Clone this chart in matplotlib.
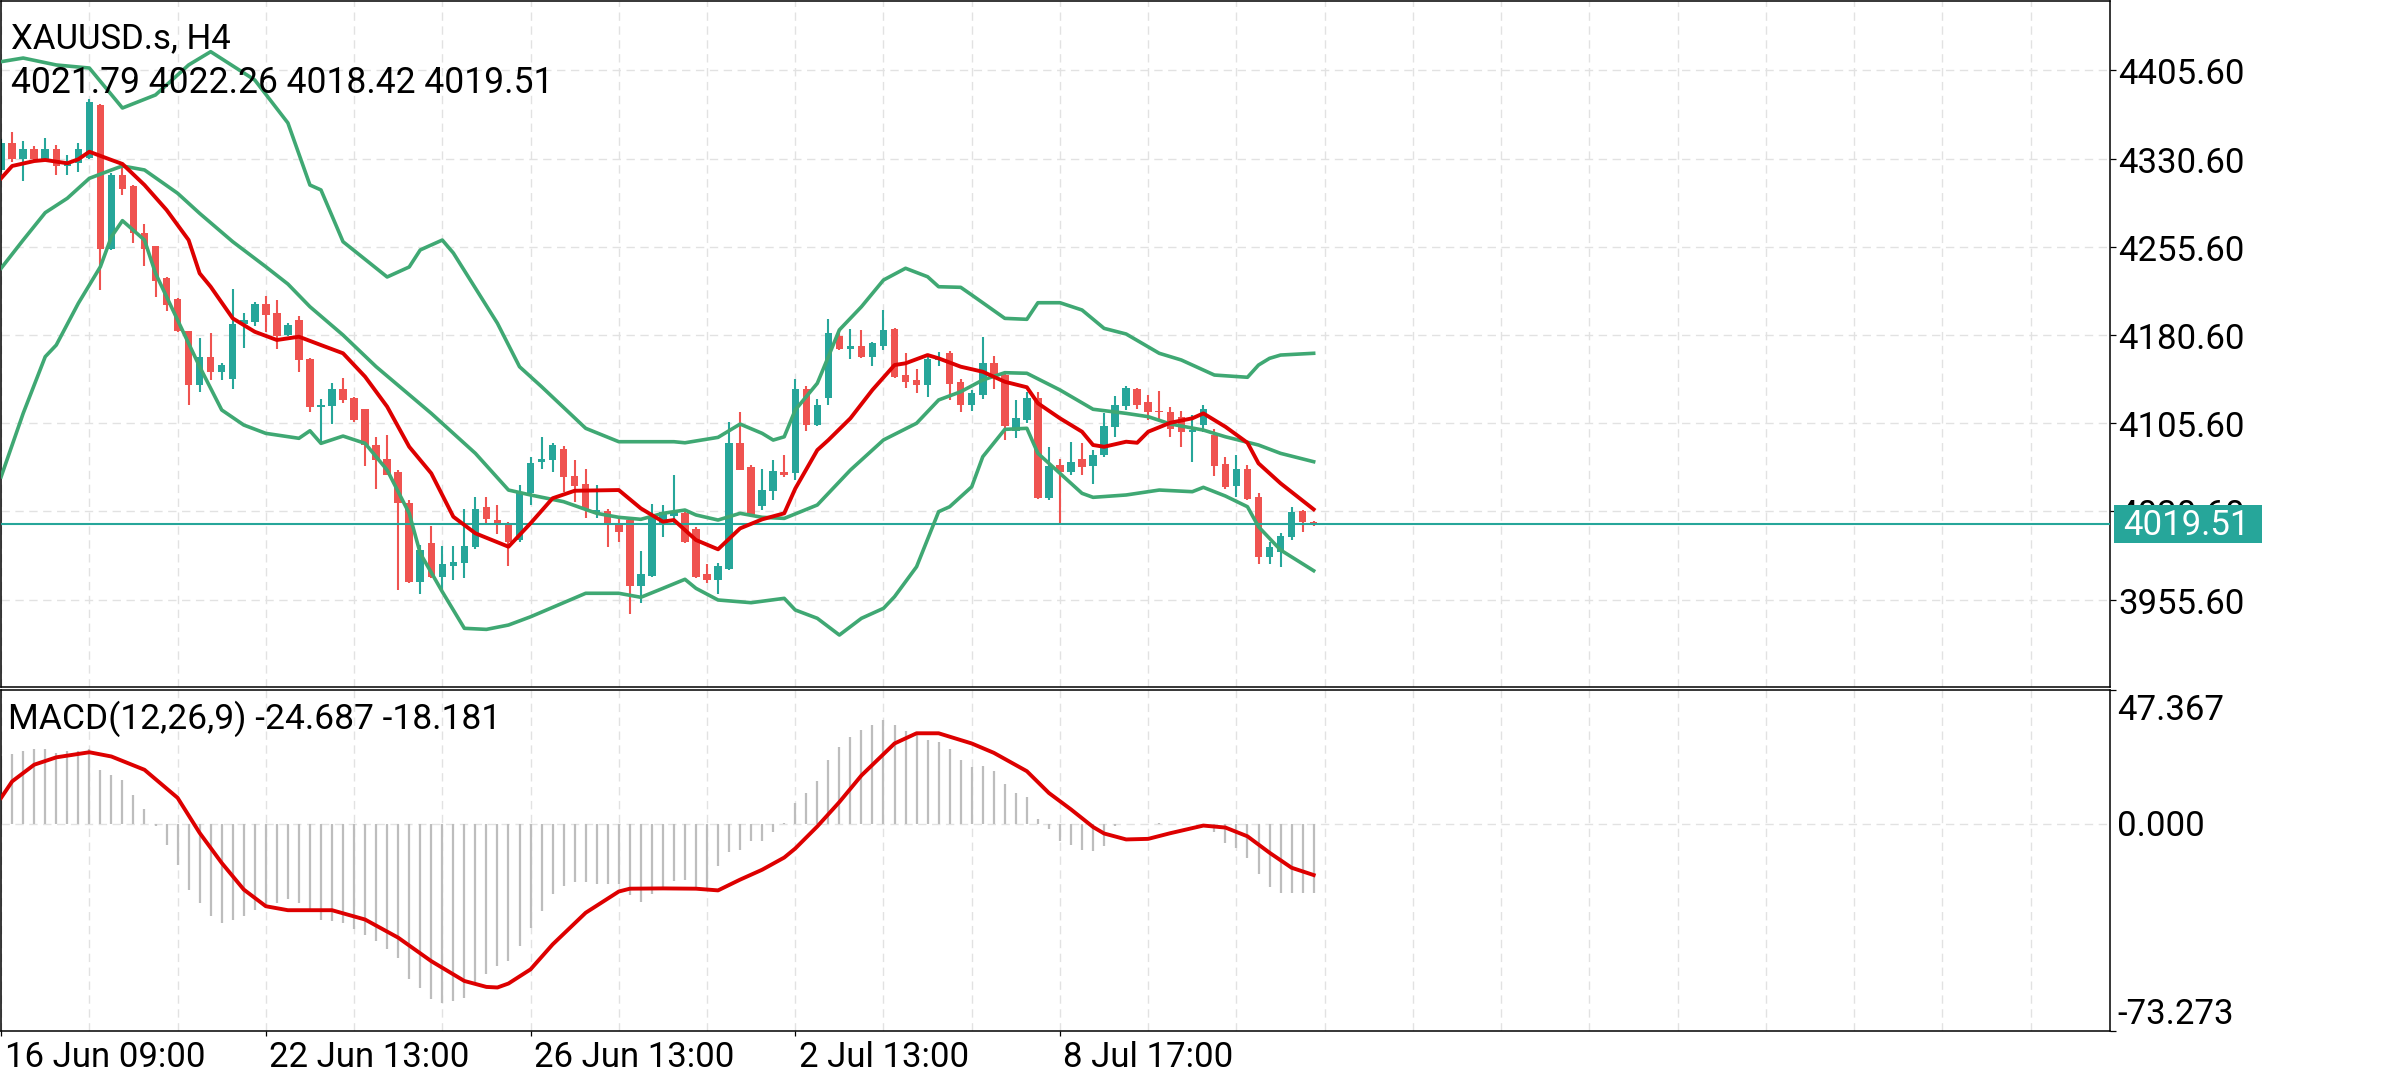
import matplotlib
matplotlib.use('Agg')
import matplotlib.pyplot as plt
from matplotlib.patches import Rectangle
from matplotlib.transforms import blended_transform_factory, offset_copy

plt.rcParams['font.family'] = ['Roboto', 'DejaVu Sans']

# XAUUSD.s H4 candles
opens = [4321, 4344, 4330, 4339, 4330, 4339, 4324, 4327, 4331, 4376,
         4254, 4317, 4307, 4267, 4256, 4229, 4211, 4184, 4138, 4162,
         4149, 4143, 4190, 4192, 4207, 4199, 4181, 4193, 4160, 4119,
         4120, 4135, 4127, 4118, 4087, 4075, 4064, 4038, 3971, 4004,
         3975, 3984, 3987, 4000, 4034, 4023, 4021, 4006, 4046, 4073,
         4074, 4084, 4061, 4054, 4030, 4031, 4021, 4023, 3967, 3976,
         4021, 4027, 4029, 4016, 3977, 3972, 3982, 4089, 4068, 4035,
         4048, 4064, 4063, 4135, 4104, 4127, 4180, 4169, 4171, 4162,
         4171, 4186, 4147, 4142, 4138, 4159, 4165, 4141, 4121, 4130,
         4157, 4147, 4099, 4108, 4127, 4042, 4070, 4064, 4075, 4069,
         4079, 4102, 4120, 4135, 4124, 4116, 4115, 4111, 4098, 4104,
         4096, 4071, 4052, 4067, 4043, 3992, 3996, 4009, 4031, 4021.79]
highs = [4347, 4353, 4346, 4341, 4348, 4342, 4334, 4344, 4381, 4377,
         4318, 4327, 4308, 4275, 4256, 4230, 4212, 4184, 4178, 4182,
         4157, 4220, 4199, 4209, 4214, 4210, 4191, 4197, 4161, 4126,
         4140, 4144, 4128, 4118, 4094, 4096, 4066, 4040, 4002, 4018,
         4001, 4001, 4033, 4043, 4043, 4036, 4022, 4053, 4077, 4094,
         4089, 4086, 4074, 4067, 4053, 4033, 4026, 4026, 3997, 4037,
         4036, 4062, 4030, 4017, 3986, 3987, 4107, 4115, 4070, 4067,
         4074, 4079, 4143, 4137, 4126, 4194, 4186, 4186, 4185, 4175,
         4202, 4187, 4165, 4152, 4162, 4166, 4167, 4143, 4134, 4179,
         4163, 4148, 4125, 4132, 4132, 4085, 4075, 4090, 4089, 4083,
         4114, 4129, 4137, 4136, 4130, 4133, 4119, 4116, 4113, 4121,
         4101, 4077, 4079, 4070, 4046, 4005, 4012, 4034, 4032, 4022.26]
lows = [4319, 4328, 4312, 4328, 4329, 4317, 4317, 4319, 4330, 4219,
        4253, 4300, 4259, 4239, 4213, 4201, 4183, 4121, 4132, 4142,
        4142, 4135, 4170, 4188, 4183, 4169, 4180, 4149, 4115, 4089,
        4105, 4123, 4107, 4069, 4050, 4062, 3964, 3970, 3960, 3974,
        3964, 3972, 3974, 3999, 4021, 4011, 3984, 4005, 4036, 4067,
        4064, 4047, 4039, 4025, 4025, 4000, 4005, 3943, 3953, 3975,
        4009, 4021, 4004, 3974, 3970, 3960, 3981, 4066, 4026, 4032,
        4040, 4060, 4057, 4099, 4103, 4121, 4168, 4160, 4161, 4154,
        4168, 4144, 4136, 4131, 4128, 4154, 4125, 4115, 4116, 4126,
        4135, 4091, 4093, 4106, 4041, 4040, 4021, 4062, 4062, 4054,
        4077, 4094, 4117, 4118, 4108, 4108, 4094, 4085, 4073, 4098,
        4061, 4050, 4043, 4040, 3986, 3986, 3983, 4006, 4013, 4018.42]
closes = [4344, 4330, 4339, 4330, 4339, 4324, 4328, 4339, 4379, 4254,
          4317, 4305, 4267, 4254, 4227, 4206, 4184, 4138, 4162, 4149,
          4155, 4190, 4193, 4207, 4198, 4180, 4189, 4159, 4119, 4121,
          4135, 4125, 4108, 4087, 4074, 4062, 4038, 3971, 3998, 3975,
          3986, 3988, 4001, 4033, 4024, 4019, 4005, 4047, 4072, 4075,
          4087, 4060, 4052, 4033, 4032, 4019, 4013, 3967, 3977, 4025,
          4030, 4029, 4005, 3975, 3972, 3984, 4089, 4066, 4028, 4049,
          4065, 4062, 4135, 4104, 4121, 4182, 4169, 4171, 4162, 4174,
          4185, 4145, 4141, 4138, 4160, 4161, 4139, 4121, 4131, 4157,
          4145, 4103, 4110, 4127, 4042, 4069, 4064, 4073, 4068, 4079,
          4103, 4121, 4136, 4121, 4115, 4115, 4101, 4098, 4100, 4118,
          4069, 4051, 4067, 4041, 3992, 4000, 4010, 4030, 4021.79, 4019.51]

# Bollinger bands, read at bars where the curves bend
bb_upper_idx = [0, 2, 5, 8, 11, 14, 17, 19, 23, 26, 28, 29, 31, 35, 37, 38, 40, 41, 45, 47,
                49, 53, 56, 61, 62, 65, 67, 69, 70, 71, 72, 74, 75, 76, 78, 80, 82, 84, 85, 87,
                88, 91, 93, 94, 96, 98, 100, 102, 105, 107, 110, 113, 114, 115, 116, 119]
bb_upper = [4413.1, 4416.2, 4410.3, 4407.7, 4373.7, 4384.8, 4410.3, 4421.6, 4397.5, 4361.0,
            4308.2, 4304.0, 4260.0, 4230.0, 4238.5, 4253.0, 4261.4, 4250.4, 4190.6, 4153.7,
            4136.7, 4101.3, 4089.9, 4089.9, 4089.0, 4093.6, 4104.9, 4097.0, 4091.3, 4094.1,
            4116.9, 4139.6, 4162.2, 4185.0, 4204.7, 4227.4, 4237.4, 4230.2, 4221.7, 4221.2,
            4214.7, 4194.8, 4194.0, 4208.1, 4208.1, 4201.9, 4186.3, 4181.5, 4165.1, 4159.4,
            4146.6, 4144.7, 4155.1, 4160.8, 4163.6, 4165.1]
bb_mid_idx = [0, 2, 4, 6, 8, 10, 11, 13, 16, 18, 21, 24, 26, 28, 31, 34, 39, 43, 46, 48,
              51, 54, 56, 58, 60, 62, 63, 65, 67, 69, 71, 74, 77, 80, 83, 85, 87, 89, 91, 93,
              96, 99, 102, 104, 106, 109, 111, 114, 116, 119]
bb_mid = [4237.4, 4261.4, 4284.7, 4296.9, 4313.9, 4321.0, 4324.4, 4321.0, 4301.2, 4284.1,
          4260.0, 4238.7, 4224.0, 4204.7, 4180.6, 4153.7, 4114.0, 4080.0, 4048.8, 4044.6,
          4038.9, 4029.0, 4025.6, 4023.9, 4029.0, 4031.8, 4027.6, 4023.3, 4029.0, 4025.6,
          4024.7, 4036.1, 4065.8, 4091.4, 4105.6, 4125.4, 4132.4, 4142.4, 4148.6, 4148.1,
          4133.9, 4117.5, 4114.0, 4111.2, 4105.0, 4099.8, 4094.1, 4087.1, 4080.0, 4072.9]
bb_lower_idx = [0, 2, 4, 5, 7, 9, 10, 11, 13, 14, 16, 18, 20, 22, 24, 27, 28, 29, 31, 33,
                35, 37, 38, 40, 42, 44, 46, 48, 51, 53, 56, 58, 60, 62, 63, 65, 68, 71, 72, 74,
                76, 78, 80, 81, 83, 85, 86, 88, 89, 91, 93, 94, 96, 98, 99, 102, 105, 108, 109, 111,
                113, 114, 116, 119]
bb_lower = [4060.1, 4114.0, 4162.2, 4172.1, 4207.6, 4238.7, 4264.2, 4277.9, 4261.4, 4233.1,
            4193.4, 4153.7, 4116.9, 4104.1, 4097.0, 4092.8, 4099.2, 4088.5, 4094.7, 4088.5,
            4065.8, 4029.0, 3995.0, 3962.3, 3931.2, 3930.3, 3934.0, 3941.0, 3953.0, 3961.0,
            3961.0, 3957.6, 3965.2, 3972.9, 3965.2, 3955.3, 3953.0, 3956.7, 3946.8, 3939.7,
            3925.5, 3939.7, 3948.2, 3958.1, 3983.6, 4030.4, 4034.6, 4051.6, 4077.1, 4100.4,
            4101.3, 4080.0, 4063.0, 4046.0, 4042.6, 4044.6, 4048.8, 4047.4, 4051.1, 4043.7,
            4034.6, 4017.6, 3997.8, 3980.2]

# red moving average
ma_idx = [0, 1, 3, 4, 6, 7, 8, 10, 11, 13, 15, 17, 18, 19, 21, 23, 25, 27, 29, 31,
          33, 35, 37, 39, 41, 43, 46, 48, 50, 52, 56, 58, 60, 61, 63, 65, 67, 69, 71, 72,
          74, 75, 77, 79, 81, 82, 84, 85, 87, 89, 91, 93, 94, 96, 98, 99, 100, 102, 103, 104,
          106, 108, 109, 111, 113, 114, 116, 119]
ma_vals = [4313.9, 4324.4, 4328.6, 4329.5, 4326.7, 4330.1, 4336.5, 4329.5, 4326.1, 4308.2,
           4287.0, 4261.4, 4233.1, 4221.7, 4194.8, 4183.4, 4176.4, 4179.2, 4172.1, 4165.1,
           4145.2, 4119.7, 4085.6, 4063.0, 4026.1, 4012.0, 4000.6, 4020.5, 4041.8, 4048.2,
           4048.8, 4033.2, 4021.9, 4023.3, 4006.3, 3998.4, 4016.2, 4023.9, 4029.0, 4050.0,
           4082.8, 4091.3, 4109.8, 4134.0, 4155.1, 4156.6, 4163.6, 4160.8, 4153.7, 4149.4,
           4140.9, 4136.2, 4122.6, 4109.8, 4098.4, 4087.1, 4085.6, 4089.9, 4089.0, 4098.4,
           4106.0, 4109.8, 4114.0, 4102.6, 4089.0, 4071.5, 4054.5, 4032.4]

# MACD(12,26,9): main as histogram, signal as line
macd_main = [23.8, 24.7, 25.8, 26.2, 26.5, 24.9, 25.5, 25.5, 26.2, 19.1,
             17.3, 15.3, 10.2, 5.0, -0.8, -7.4, -14.5, -23.3, -28.0, -32.7,
             -35.0, -33.9, -32.7, -30.4, -29.2, -28.0, -26.8, -28.0, -30.4, -33.9,
             -34.5, -35.0, -37.2, -39.2, -41.5, -44.2, -47.4, -55.0, -58.0, -62.1,
             -63.3, -62.7, -61.5, -56.2, -53.3, -50.3, -48.6, -43.3, -36.8, -30.9,
             -24.7, -22.1, -20.7, -20.7, -21.2, -21.3, -21.5, -25.4, -27.7, -25.0,
             -23.3, -20.4, -19.8, -23.1, -23.1, -15.1, -10.2, -9.2, -6.3, -6.3,
             -2.8, 0.3, 7.1, 10.8, 15.0, 22.3, 27.0, 30.6, 32.9, 34.7,
             36.7, 34.7, 32.6, 32.0, 29.6, 28.8, 26.3, 22.6, 20.0, 20.2,
             18.7, 14.1, 10.8, 9.4, 1.6, -2.0, -6.1, -7.5, -9.3, -9.6,
             -7.9, -0.8, -0.2, -0.2, 0.0, 0.35, 0.0, -0.2, -0.2, -0.6,
             -2.9, -6.9, -8.5, -12.0, -17.9, -22.3, -24.4, -24.4, -24.6, -24.687]
signal_idx = [0, 1, 3, 5, 8, 10, 13, 16, 18, 20, 22, 24, 26, 30, 33, 36, 39, 42, 44, 45,
              46, 48, 50, 53, 56, 57, 60, 63, 65, 67, 69, 71, 72, 74, 76, 78, 81, 83, 85, 88,
              90, 93, 95, 97, 99, 100, 102, 104, 106, 109, 111, 113, 115, 117, 119]
signal_vals = [9.1, 14.9, 20.8, 23.4, 25.2, 23.7, 19.0, 9.1, -3.3, -13.9,
               -23.3, -29.2, -30.6, -30.6, -33.9, -40.3, -48.6, -55.6, -57.7, -57.9,
               -56.5, -51.5, -42.7, -31.5, -24.0, -23.0, -22.9, -23.0, -23.6, -19.8,
               -16.3, -12.0, -8.8, -1.0, 7.6, 17.0, 28.3, 31.9, 31.9, 28.3,
               25.0, 18.5, 10.8, 5.0, -1.2, -3.5, -5.6, -5.4, -3.4, -0.7,
               -1.4, -4.5, -10.3, -15.6, -18.181]

price_ticks = [4405.60, 4330.60, 4255.60, 4180.60, 4105.60, 4030.60, 3955.60]
time_idx = [0, 24, 48, 72, 96]
time_labels = ['16 Jun 09:00', '22 Jun 13:00', '26 Jun 13:00', '2 Jul 13:00', '8 Jul 17:00']
last_price = 4019.51
macd_top, macd_bottom = 47.367, -73.273

BULL = '#26a69a'
BEAR = '#ef5350'
BAND = '#3fa873'
MA_RED = '#dd0000'
GRID = '#e2e2e2'
FS = 25

W, H = 2392, 1080
fig = plt.figure(figsize=(W / 100, H / 100), dpi=100)
ax = fig.add_axes([1 / W, 1 - 687 / H, 2109 / W, 686 / H])
axm = fig.add_axes([1 / W, 1 - 1031 / H, 2109 / W, 341.5 / H])

n = len(closes)
xlim = (-0.01, 191.2)
for a in (ax, axm):
    a.set_xlim(*xlim)
    for s in a.spines.values():
        s.set_linewidth(1.1)
        s.set_color('black')
    for gx in range(0, 192, 8):
        a.axvline(gx, color=GRID, lw=1.0, dashes=(6, 4), zorder=0)
ax.set_ylim(3881.3, 4464.7)
axm.set_ylim(macd_bottom, macd_top)

# grid
for p in price_ticks:
    ax.axhline(p, color=GRID, lw=1.0, dashes=(6, 4), zorder=0)
axm.axhline(0, color=GRID, lw=1.0, dashes=(6, 4), zorder=0)

# candles
for i in range(n):
    o, h, l, c = opens[i], highs[i], lows[i], closes[i]
    col = BULL if c >= o else BEAR
    ax.vlines(i, l, h, color=col, lw=1.5, zorder=2)
    ax.bar(i, max(abs(c - o), 1.0), bottom=min(o, c), width=0.68,
           color=col, linewidth=0, zorder=2)

ax.axhline(last_price, color=BULL, lw=1.5, zorder=3)
ax.plot(bb_upper_idx, bb_upper, color=BAND, lw=2.6, zorder=4, solid_joinstyle='round')
ax.plot(bb_mid_idx, bb_mid, color=BAND, lw=2.6, zorder=4, solid_joinstyle='round')
ax.plot(bb_lower_idx, bb_lower, color=BAND, lw=2.6, zorder=4, solid_joinstyle='round')
ax.plot(ma_idx, ma_vals, color=MA_RED, lw=2.8, zorder=5, solid_joinstyle='round')

# MACD panel
axm.vlines(range(n), 0, macd_main, color='#bdbdbd', lw=1.6, zorder=2)
axm.plot(signal_idx, signal_vals, color=MA_RED, lw=2.8, zorder=3, solid_joinstyle='round')

# ticks
ax.set_xticks([])
ax.yaxis.tick_right()
ax.set_yticks(price_ticks)
ax.tick_params(axis='y', length=4.3, width=0.9, labelright=False)
axm.yaxis.tick_right()
axm.set_yticks([macd_top, macd_bottom])
axm.tick_params(axis='y', length=4.3, width=0.9, labelright=False)
axm.set_xticks(time_idx)
axm.tick_params(axis='x', length=3.6, width=0.9, labelbottom=False)

# price labels on the right
ytrans = blended_transform_factory(ax.transAxes, ax.transData)
for p in price_ticks:
    ax.text(1.0, p, f'{p:.2f}', transform=offset_copy(ytrans, fig, x=8, y=-14, units='dots'),
            ha='left', va='baseline', fontsize=FS, color='black', clip_on=False, zorder=6)
box_h = 38 * (ax.get_ylim()[1] - ax.get_ylim()[0]) / 686
ax.add_patch(Rectangle((1.0 + 4 / 2109, last_price - box_h / 2), 148 / 2109, box_h,
                       transform=ytrans, facecolor=BULL, edgecolor='none',
                       clip_on=False, zorder=8))
ax.text(1.0, last_price, f'{last_price:.2f}',
        transform=offset_copy(ytrans, fig, x=13, y=-11, units='dots'),
        ha='left', va='baseline', fontsize=FS, color='white', clip_on=False, zorder=9)

mtrans = blended_transform_factory(axm.transAxes, axm.transData)
for v, dy in [(macd_top, -30.5), (0.0, -12), (macd_bottom, 6.7)]:
    axm.text(1.0, v, f'{v:.3f}', transform=offset_copy(mtrans, fig, x=7, y=dy, units='dots'),
             ha='left', va='baseline', fontsize=FS, color='black', clip_on=False)

ttrans = blended_transform_factory(axm.transData, axm.transAxes)
for ti, lab in zip(time_idx, time_labels):
    axm.text(ti, 0, lab, transform=offset_copy(ttrans, fig, x=3.5, y=-35.7, units='dots'),
             ha='left', va='baseline', fontsize=FS, color='black', clip_on=False)

# headers
fig.text(11 / W, 1 - 48.3 / H, 'XAUUSD.s, H4', fontsize=25, va='baseline', ha='left')
fig.text(11 / W, 1 - 93.3 / H, '4021.79 4022.26 4018.42 4019.51', fontsize=25.6,
         va='baseline', ha='left')
fig.text(8 / W, 1 - 729.3 / H, 'MACD(12,26,9) -24.687 -18.181', fontsize=25.5,
         va='baseline', ha='left')

fig.savefig('out.png', dpi=100, facecolor='white')
